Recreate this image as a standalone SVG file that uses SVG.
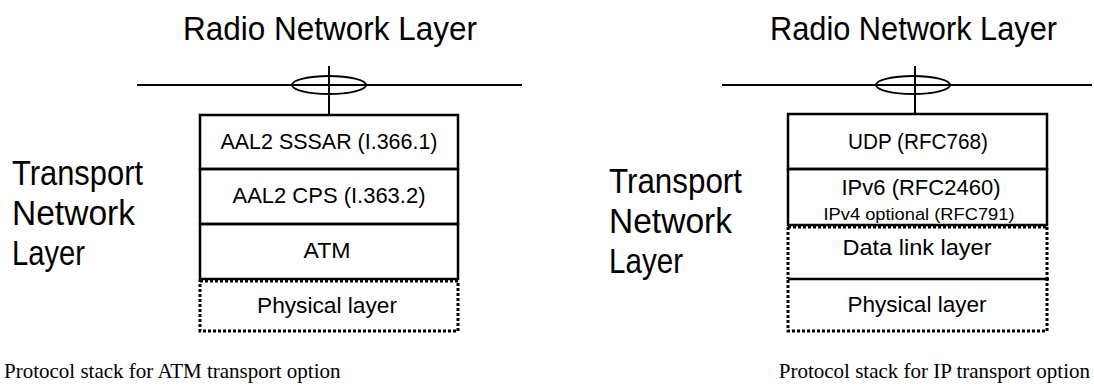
<svg xmlns="http://www.w3.org/2000/svg" width="1094" height="389" viewBox="0 0 1094 389">
<style>
.big{font-family:"Liberation Sans",Arial,sans-serif;font-size:33px;fill:#000}
.tnl{font-family:"Liberation Sans",Arial,sans-serif;font-size:35px;fill:#000}
.box{font-family:"Liberation Sans",Arial,sans-serif;font-size:22px;fill:#000;text-anchor:middle}
.small{font-family:"Liberation Sans",Arial,sans-serif;font-size:17px;fill:#000;text-anchor:middle}
.cap{font-family:"Liberation Serif","Times New Roman",serif;font-size:21px;fill:#000}
.solid{fill:none;stroke:#000;stroke-width:2.5}
.line{fill:none;stroke:#000;stroke-width:2}
.dot{fill:none;stroke:#000;stroke-width:3;stroke-dasharray:3 2}
</style>
<g id="atm-stack">
  <g id="atm-rnl">
    <text class="big" x="183" y="40" textLength="294" lengthAdjust="spacingAndGlyphs">Radio Network Layer</text>
  </g>
  <g id="atm-tnl">
    <text class="tnl" x="12" y="185" textLength="131" lengthAdjust="spacingAndGlyphs">Transport</text>
    <text class="tnl" x="12" y="225" textLength="123" lengthAdjust="spacingAndGlyphs">Network</text>
    <text class="tnl" x="12" y="265" textLength="73" lengthAdjust="spacingAndGlyphs">Layer</text>
  </g>
  <g id="atm-sssar">
    <rect class="solid" x="200" y="115" width="258" height="54"/>
    <text class="box" x="329" y="149" textLength="217" lengthAdjust="spacingAndGlyphs">AAL2 SSSAR (I.366.1)</text>
  </g>
  <g id="atm-cps">
    <rect class="solid" x="200" y="169" width="258" height="55"/>
    <text class="box" x="329" y="203" textLength="193" lengthAdjust="spacingAndGlyphs">AAL2 CPS (I.363.2)</text>
  </g>
  <g id="atm-atm">
    <rect class="solid" x="200" y="224" width="258" height="55"/>
    <text class="box" x="327" y="258" textLength="47" lengthAdjust="spacingAndGlyphs">ATM</text>
  </g>
  <g id="atm-phy">
    <rect class="dot" x="200" y="281" width="258" height="50"/>
    <text class="box" x="327" y="313" textLength="140" lengthAdjust="spacingAndGlyphs">Physical layer</text>
  </g>
  <text class="cap" x="4" y="378">Protocol stack for ATM transport option</text>
</g>
<g id="ip-stack">
  <g id="ip-rnl">
    <text class="big" x="770" y="40" textLength="287" lengthAdjust="spacingAndGlyphs">Radio Network Layer</text>
  </g>
  <g id="ip-tnl">
    <text class="tnl" x="609" y="193" textLength="133" lengthAdjust="spacingAndGlyphs">Transport</text>
    <text class="tnl" x="609" y="233" textLength="123" lengthAdjust="spacingAndGlyphs">Network</text>
    <text class="tnl" x="609" y="273" textLength="74" lengthAdjust="spacingAndGlyphs">Layer</text>
  </g>
  <g id="ip-udp">
    <rect class="solid" x="788" y="114" width="259" height="55"/>
    <text class="box" x="918" y="149" textLength="140" lengthAdjust="spacingAndGlyphs">UDP (RFC768)</text>
  </g>
  <g id="ip-ip">
    <rect class="solid" x="788" y="169" width="259" height="56"/>
    <text class="box" x="921" y="195" textLength="159" lengthAdjust="spacingAndGlyphs">IPv6 (RFC2460)</text>
    <text class="small" x="919" y="220" textLength="191" lengthAdjust="spacingAndGlyphs">IPv4 optional (RFC791)</text>
  </g>
  <g id="ip-dl">
    <path class="dot" d="M788 227 H1047 M788 227 V279 M1047 227 V279"/>
    <line class="solid" x1="788" y1="279" x2="1049" y2="279"/>
    <text class="box" x="917" y="255" textLength="149" lengthAdjust="spacingAndGlyphs">Data link layer</text>
  </g>
  <g id="ip-phy">
    <path class="dot" d="M788 280 V331 H1047 V280"/>
    <text class="box" x="917" y="312" textLength="139" lengthAdjust="spacingAndGlyphs">Physical layer</text>
  </g>
  <text class="cap" x="1090" y="378" text-anchor="end">Protocol stack for IP transport option</text>
</g>
<g id="connectors">
  <line class="line" x1="137" y1="85" x2="522" y2="85"/>
  <ellipse class="line" cx="329" cy="85" rx="37" ry="9"/>
  <line class="line" x1="329" y1="66" x2="329" y2="115"/>
  <line class="line" x1="722" y1="85" x2="1092" y2="85"/>
  <ellipse class="line" cx="913" cy="85" rx="37" ry="9"/>
  <line class="line" x1="915" y1="66" x2="915" y2="114"/>
</g>
</svg>
